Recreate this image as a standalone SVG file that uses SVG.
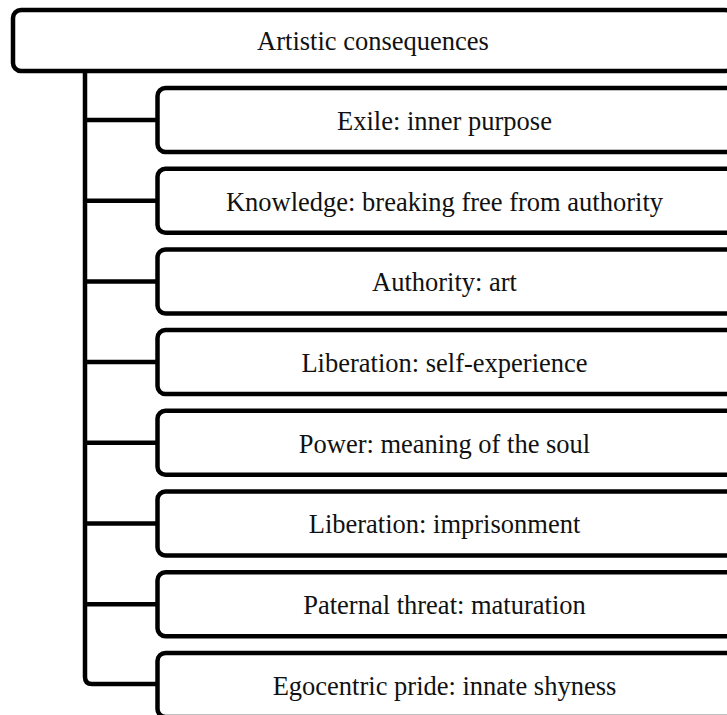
<svg xmlns="http://www.w3.org/2000/svg" width="727" height="715" viewBox="0 0 727 715">
  <style>
    .box { fill: #ffffff; stroke: #000000; stroke-width: 4.5; }
    .link { fill: none; stroke: #000000; stroke-width: 4.5; stroke-linejoin: round; }
    .label { font-family: "Liberation Serif", "Times New Roman", serif; font-size: 26.5px; fill: #111111; text-anchor: middle; }
  </style>
  <rect width="727" height="715" fill="#ffffff"/>

  <!-- tree connectors: trunk plus branches to each child -->
  <g id="connectors">
    <path class="link" d="M85,72 V677 Q85,684 92,684 H157.5"/>
    <path class="link" d="M85,120 H157.5"/>
    <path class="link" d="M85,200.7 H157.5"/>
    <path class="link" d="M85,281.4 H157.5"/>
    <path class="link" d="M85,362.1 H157.5"/>
    <path class="link" d="M85,442.8 H157.5"/>
    <path class="link" d="M85,523.5 H157.5"/>
    <path class="link" d="M85,604.2 H157.5"/>
  </g>

  <g id="root">
    <rect class="box" x="13" y="10" width="720" height="61" rx="8"/>
    <text class="label" x="373" y="49.5">Artistic consequences</text>
  </g>

  <g id="child1">
    <rect class="box" x="157.5" y="88" width="580" height="64" rx="8"/>
    <text class="label" x="444.5" y="130">Exile: inner purpose</text>
  </g>
  <g id="child2">
    <rect class="box" x="157.5" y="168.7" width="580" height="64" rx="8"/>
    <text class="label" x="444.5" y="210.5">Knowledge: breaking free from authority</text>
  </g>
  <g id="child3">
    <rect class="box" x="157.5" y="249.4" width="580" height="64" rx="8"/>
    <text class="label" x="444.5" y="291.2">Authority: art</text>
  </g>
  <g id="child4">
    <rect class="box" x="157.5" y="330.1" width="580" height="64" rx="8"/>
    <text class="label" x="444.5" y="371.9">Liberation: self-experience</text>
  </g>
  <g id="child5">
    <rect class="box" x="157.5" y="410.8" width="580" height="64" rx="8"/>
    <text class="label" x="444.5" y="452.6">Power: meaning of the soul</text>
  </g>
  <g id="child6">
    <rect class="box" x="157.5" y="491.5" width="580" height="64" rx="8"/>
    <text class="label" x="444.5" y="533.3">Liberation: imprisonment</text>
  </g>
  <g id="child7">
    <rect class="box" x="157.5" y="572.2" width="580" height="64" rx="8"/>
    <text class="label" x="444.5" y="614">Paternal threat: maturation</text>
  </g>
  <g id="child8">
    <rect class="box" x="157.5" y="652.9" width="580" height="64" rx="8"/>
    <text class="label" x="444.5" y="694.7">Egocentric pride: innate shyness</text>
  </g>
</svg>
